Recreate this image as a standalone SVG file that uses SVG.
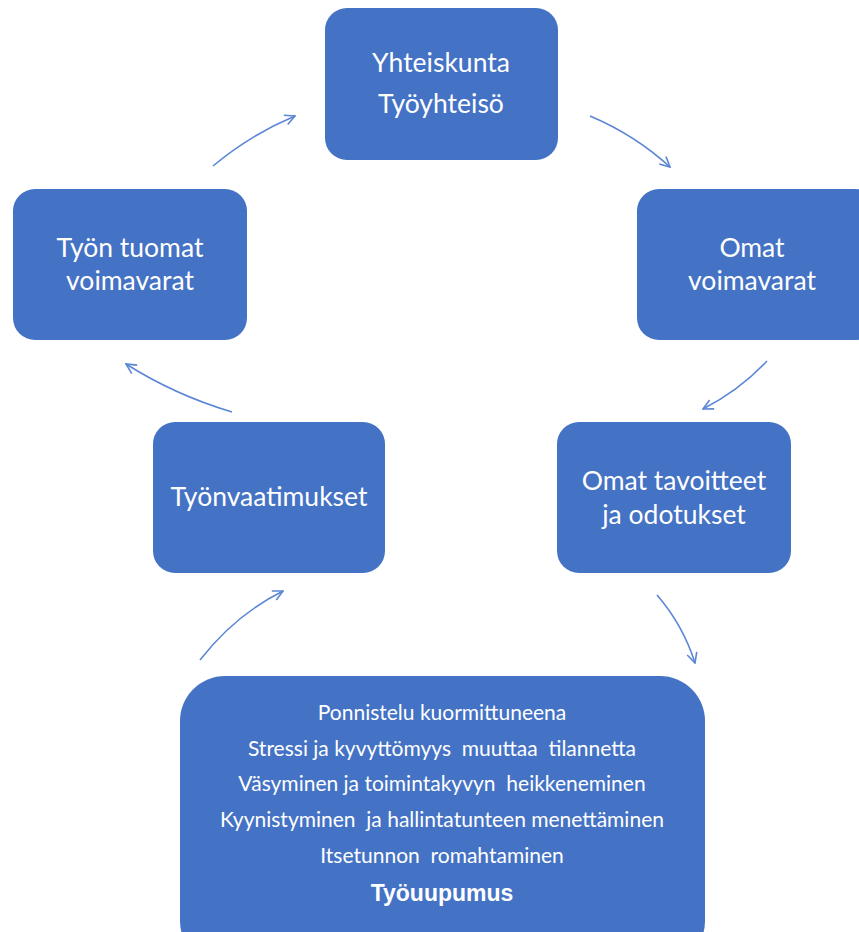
<svg xmlns="http://www.w3.org/2000/svg" width="859" height="932" viewBox="0 0 859 932">
<defs>
<style>
.box{fill:#4472C4;}
.t{font-family:Lato,"Liberation Sans",sans-serif;fill:#ffffff;text-anchor:middle;font-size:26.5px;}
.s{font-family:Lato,"Liberation Sans",sans-serif;fill:#ffffff;text-anchor:middle;font-size:21px;white-space:pre;}
.b{font-family:"Liberation Sans",Arial,sans-serif;fill:#ffffff;text-anchor:middle;font-size:23px;font-weight:bold;}
.c{fill:none;stroke:#5B86D6;stroke-width:1.6;marker-end:url(#ah);}
</style>
<marker id="ah" viewBox="0 0 12 12" refX="11" refY="6" markerWidth="12" markerHeight="12" markerUnits="userSpaceOnUse" orient="auto">
<path d="M1,1 L11,6 L1,11" fill="none" stroke="#5B86D6" stroke-width="1.6"/>
</marker>
</defs>
<rect width="859" height="932" fill="#ffffff"/>
<g id="n-yhteiskunta">
<rect class="box" x="325" y="8" width="233" height="152" rx="22"/>
<text class="t" x="441" y="72">Yhteiskunta</text>
<text class="t" x="441" y="113">Työyhteisö</text>
</g>
<g id="n-omat-voimavarat">
<rect class="box" x="637" y="189" width="240" height="151" rx="22"/>
<text class="t" x="752" y="257">Omat</text>
<text class="t" x="752" y="290">voimavarat</text>
</g>
<g id="n-omat-tavoitteet">
<rect class="box" x="557" y="422" width="234" height="151" rx="22"/>
<text class="t" x="674" y="490">Omat tavoitteet</text>
<text class="t" x="674" y="524">ja odotukset</text>
</g>
<g id="n-tyonvaatimukset">
<rect class="box" x="153" y="422" width="232" height="151" rx="22"/>
<text class="t" x="269" y="506">Työnvaatimukset</text>
</g>
<g id="n-tyon-tuomat">
<rect class="box" x="13" y="189" width="234" height="151" rx="22"/>
<text class="t" x="130" y="257">Työn tuomat</text>
<text class="t" x="130" y="290">voimavarat</text>
</g>
<g id="n-tyouupumus">
<rect class="box" x="180" y="676" width="525" height="290" rx="45"/>
<text class="s" x="442" y="720" xml:space="preserve">Ponnistelu kuormittuneena</text>
<text class="s" x="442" y="756" xml:space="preserve">Stressi ja kyvyttömyys  muuttaa  tilannetta</text>
<text class="s" x="442" y="791" xml:space="preserve">Väsyminen ja toimintakyvyn  heikkeneminen</text>
<text class="s" x="442" y="827" xml:space="preserve">Kyynistyminen  ja hallintatunteen menettäminen</text>
<text class="s" x="442" y="863" xml:space="preserve">Itsetunnon  romahtaminen</text>
<text class="b" x="442" y="901">Työuupumus</text>
</g>
<g id="connectors">
<path class="c" d="M213,166 Q250,135 295,116"/>
<path class="c" d="M590,116 Q635,135 670,167"/>
<path class="c" d="M767,361 Q740,390 703,409"/>
<path class="c" d="M232,412 Q175,395 126,364"/>
<path class="c" d="M200,660 Q235,615 283,591"/>
<path class="c" d="M657,595 Q683,625 695,663"/>
</g>
</svg>
